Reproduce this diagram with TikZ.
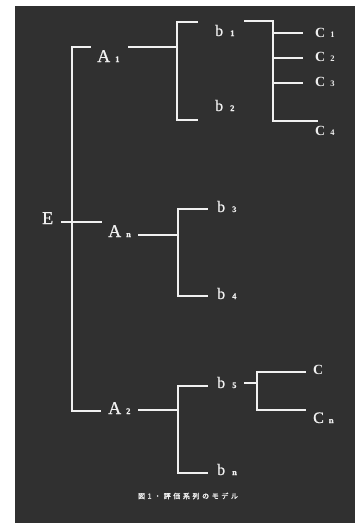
\documentclass[tikz,border=0pt]{standalone}
\usepackage{fontspec}
\setmainfont{Liberation Serif}
\newfontfamily\chalkfont[FakeBold=0.7]{Liberation Serif}
\newfontfamily\jpfont[FakeBold=1.5]{Noto Sans CJK JP}
\definecolor{board}{HTML}{303030}
\definecolor{chalk}{HTML}{F0F0F0}
% small bold index set after a letter
\newcommand\idx[1]{{\fontsize{8.5}{8.5}\selectfont\bfseries #1}}
\newcommand\jsp{\hspace{2.6pt}}

\begin{document}
\begin{tikzpicture}[x=1pt,y=-1pt,
  wire/.style={draw=chalk, line width=1.8pt, line cap=rect},
  lbl/.style={text=chalk, inner sep=0pt, anchor=base west},
  alab/.style={lbl, font=\chalkfont\fontsize{18}{18}\selectfont},
  blab/.style={lbl, font=\chalkfont\fontsize{16}{16}\selectfont},
  clab/.style={lbl, font=\fontsize{14}{14}\selectfont\bfseries}]
\useasboundingbox (0,0) rectangle (357,523);
\fill[white] (0,0) rectangle (357,523);
\fill[board] (15,6) rectangle (355,523);

% labels
\node[alab] (E)  at (42,224)  {E};
\node[alab] (A1) at (97,62)   {A\hspace{5pt}\idx{1}};
\node[alab] (An) at (108,237) {A\hspace{5pt}\idx{n}};
\node[alab] (A2) at (108,414) {A\hspace{5pt}\idx{2}};

\node[blab] (b1) at (215,36)  {b\hspace{7pt}\idx{1}};
\node[blab] (b2) at (215,111) {b\hspace{7pt}\idx{2}};
\node[blab] (b3) at (217,212) {b\hspace{7pt}\idx{3}};
\node[blab] (b4) at (217,299) {b\hspace{7pt}\idx{4}};
\node[blab] (b5) at (217,388) {b\hspace{7pt}\idx{5}};
\node[blab] (bn) at (217,475) {b\hspace{7pt}\idx{n}};

\node[clab] (c1) at (315,37)  {C\hspace{5pt}\idx{1}};
\node[clab] (c2) at (315,61)  {C\hspace{5pt}\idx{2}};
\node[clab] (c3) at (315,86)  {C\hspace{5pt}\idx{3}};
\node[clab] (c4) at (315,135) {C\hspace{5pt}\idx{4}};
\node[clab] (c)  at (313,374) {C};
\node[alab, font=\chalkfont\fontsize{16}{16}\selectfont] (cn) at (313,423) {C\hspace{5pt}\idx{n}};

\node[text=chalk, inner sep=0pt] (cap) at (188,496)
  {\jpfont\fontsize{7}{7}\selectfont 図\jsp 1\jsp ・\jsp 評\jsp 価\jsp 系\jsp 列\jsp の\jsp モ\jsp デ\jsp ル};

% junction points
\coordinate (e0) at (62,222);   \coordinate (e1) at (101,222);
\coordinate (m0) at (90,47);    \coordinate (m1) at (72,47);
\coordinate (m2) at (72,411);   \coordinate (m3) at (100,411);

\coordinate (a1) at (129,47);   \coordinate (a1j) at (177,47);
\coordinate (p0) at (197,22);   \coordinate (p1) at (177,22);
\coordinate (p2) at (177,120);  \coordinate (p3) at (197,120);
\coordinate (q0) at (245,21);   \coordinate (q1) at (273,21);
\coordinate (q2) at (273,121);  \coordinate (q3) at (317,121);
\coordinate (s1) at (273,33);   \coordinate (t1) at (302,33);
\coordinate (s2) at (273,58);   \coordinate (t2) at (302,58);
\coordinate (s3) at (273,83);   \coordinate (t3) at (302,83);

\coordinate (an) at (139,235);  \coordinate (anj) at (178,235);
\coordinate (r0) at (207,209);  \coordinate (r1) at (178,209);
\coordinate (r2) at (178,296);  \coordinate (r3) at (207,296);

\coordinate (a2) at (139,410);  \coordinate (a2j) at (178,410);
\coordinate (u0) at (207,386);  \coordinate (u1) at (178,386);
\coordinate (u2) at (178,473);  \coordinate (u3) at (207,473);
\coordinate (v0) at (245,383);  \coordinate (v1) at (257,383);
\coordinate (w0) at (305,372);  \coordinate (w1) at (257,372);
\coordinate (w2) at (257,410);  \coordinate (w3) at (305,410);

% connectors
\draw[wire] (m0) -- (m1) -- (m2) -- (m3);
\draw[wire] (e0) -- (e1);
\draw[wire] (a1) -- (a1j);
\draw[wire] (p0) -- (p1) -- (p2) -- (p3);
\draw[wire] (q0) -- (q1) -- (q2) -- (q3);
\draw[wire] (s1) -- (t1);
\draw[wire] (s2) -- (t2);
\draw[wire] (s3) -- (t3);
\draw[wire] (an) -- (anj);
\draw[wire] (r0) -- (r1) -- (r2) -- (r3);
\draw[wire] (a2) -- (a2j);
\draw[wire] (u0) -- (u1) -- (u2) -- (u3);
\draw[wire] (v0) -- (v1);
\draw[wire] (w0) -- (w1) -- (w2) -- (w3);
\end{tikzpicture}
\end{document}
